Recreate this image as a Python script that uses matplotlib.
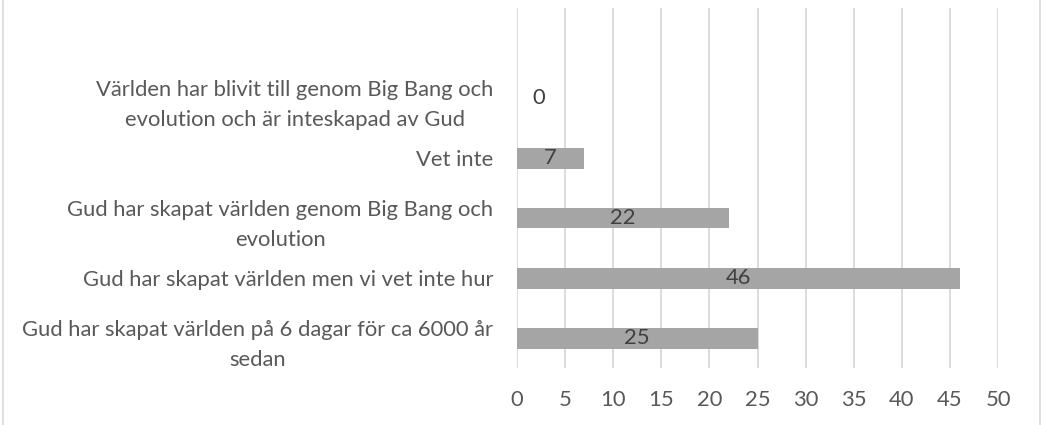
import matplotlib
matplotlib.use("Agg")
import matplotlib.pyplot as plt
from matplotlib.lines import Line2D

plt.rcParams['font.family'] = ['Lato', 'DejaVu Sans']

# data (top to bottom as shown in the chart)
categories = [
    "Världen har blivit till genom Big Bang och\nevolution och är inteskapad av Gud",
    "Vet inte",
    "Gud har skapat världen genom Big Bang och\nevolution",
    "Gud har skapat världen men vi vet inte hur",
    "Gud har skapat världen på 6 dagar för ca 6000 år\nsedan",
]
values = [0, 7, 22, 46, 25]
xticks = [0, 5, 10, 15, 20, 25, 30, 35, 40, 45, 50]

textColor = '#595959'
labelColor = '#404040'
gridColor = '#d9d9d9'
barColor = '#a5a5a5'
fs = 15.8

fig = plt.figure(figsize=(10.41, 4.25), dpi=100)
ax = fig.add_axes([517/1041, 1-368/425, 481/1041, 360/425])

# bottom-most category drawn at y=0
n = len(categories)
ypos = [n-1-i for i in range(n)]
ax.barh(ypos, values, height=0.35, color=barColor, zorder=2)

for y, v in zip(ypos, values):
  if v > 0:
    ax.text(v/2., y, str(v), ha='center', va='center', fontsize=fs, color=labelColor, zorder=3)
  else:
    ax.annotate(str(v), (v, y), xytext=(22, 0), textcoords='offset pixels',
                ha='center', va='center', fontsize=fs, color=labelColor)

ax.set_xlim(0, 50)
ax.set_ylim(-0.5, n+0.5)
ax.set_xticks(xticks)
ax.set_xticklabels([str(t) for t in xticks])
ax.set_yticks(ypos)
ax.set_yticklabels(categories, multialignment='center', linespacing=1.62)
ax.tick_params(axis='x', length=0, pad=16, labelsize=fs, labelcolor=textColor)
ax.tick_params(axis='y', length=0, pad=17, labelsize=fs, labelcolor=textColor)

ax.xaxis.grid(True, color=gridColor, linewidth=1.3, zorder=0)
ax.set_axisbelow(True)
for s in ax.spines.values():
  s.set_visible(False)

# chart border (left and right edges visible in the crop)
fig.add_artist(Line2D([3/1041, 3/1041], [0, 1], color=gridColor, linewidth=1.2))
fig.add_artist(Line2D([1040/1041, 1040/1041], [0, 1], color=gridColor, linewidth=1.2))

fig.savefig('out.png', dpi=100)
